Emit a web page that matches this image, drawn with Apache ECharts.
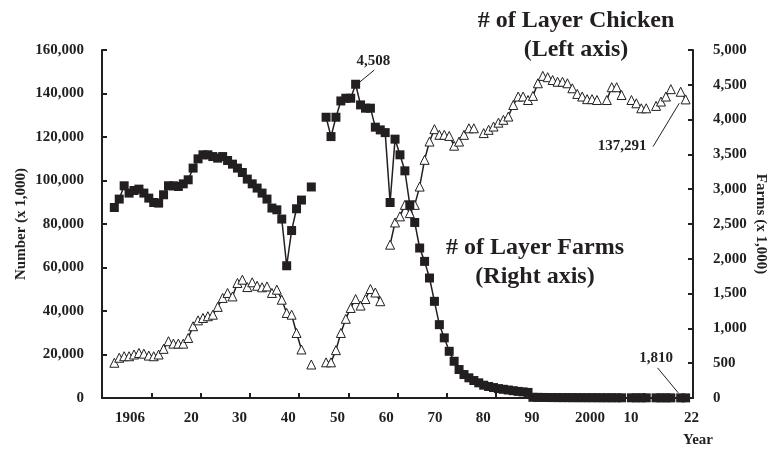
<!DOCTYPE html>
<html>
<head>
<meta charset="utf-8">
<script src="https://cdn.jsdelivr.net/npm/echarts@6/dist/echarts.min.js"></script>
<style>
html,body{margin:0;padding:0;background:#fff;}
#chart{width:770px;height:451px;}
</style>
</head>
<body>
<div id="chart"></div>
<script>
// 年份从1906开始，每年一个值，null为缺测
var startYear = 1906;
// 采卵鸡只数（千只，左轴）
var chickens = [
  16.2,18.5,19.2,19.2,20.0,20.7,20.4,19.5,19.2,20.0,   // 1906-1915
  22.6,26.1,25.0,25.0,25.0,27.6,33.0,35.7,36.8,37.6,   // 1916-1925
  38.3,41.9,46.0,48.3,46.7,52.9,54.4,51.0,53.2,51.6,   // 1926-1935
  50.9,51.3,48.3,49.8,45.2,39.1,38.3,29.9,22.3,null,   // 1936-1945
  15.4,null,null,16.4,16.4,22.0,29.9,36.4,41.4,45.5,   // 1946-1955
  42.5,45.5,50.1,48.5,44.5,null,70.5,80.7,83.5,88.8,   // 1956-1965
  85.0,88.8,97.2,109.5,117.9,123.6,121.0,121.0,120.5,116.0, // 1966-1975
  117.9,121.0,124.0,124.0,null,121.8,123.3,124.8,126.6,127.9, // 1976-1985
  129.4,134.7,138.6,138.6,137.0,138.9,144.7,148.1,147.5,146.2, // 1986-1995
  145.4,145.4,144.7,142.4,139.8,138.6,137.4,137.4,137.0,null,  // 1996-2005
  137.0,142.9,142.9,139.3,null,137.0,135.5,133.2,133.2,null,   // 2006-2015
  134.3,136.3,138.6,142.0,null,140.8,137.291                    // 2016-2022
];
// 采卵鸡饲养户数（千户，右轴）
var farms = [
  2737,2858,3049,2944,2981,3001,2944,2872,2809,2800,   // 1906-1915
  2920,3049,3049,3039,3077,3135,3303,3436,3494,3494,   // 1916-1925
  3469,3446,3469,3412,3360,3303,3240,3145,3077,3016,   // 1926-1935
  2944,2858,2729,2704,2571,1900,2406,2719,2844,null,   // 1936-1945
  3032,null,null,4034,3756,4034,4268,4307,4307,4508,   // 1946-1955
  4211,4164,4164,3891,3852,3813,2809,3719,3494,3264,   // 1956-1965
  2776,2522,2155,1963,1724,1389,1054,864,671,528,      // 1966-1975
  409,337,290,251,218,184,165,150,135,125,             // 1976-1985
  115,105,95,88,80,10.0,8.8,7.9,7.0,6.3,               // 1986-1995
  5.9,5.6,5.3,5.0,4.8,4.6,4.4,4.2,4.0,3.8,             // 1996-2005
  3.6,3.5,3.3,3.1,null,2.9,2.8,2.7,2.6,null,           // 2006-2015
  2.4,2.4,2.2,2.1,null,1.88,1.81                       // 2016-2022
];
// x轴刻度与文字（文字位置照原图）
var tickYears = [1913.5,1923.5,1933.5,1943.5,1953.5,1963.5,1973.5,1983.5,1993.5,2003.5,2013.5];
var labelYears = [1909.2,1921.6,1931.4,1941.3,1951.3,1961.2,1971.1,1980.9,1990.8,2002.6,2010.9,2023.2];
var labelTexts = ['1906','20','30','40','50','60','70','80','90','2000','10','22'];

var ink = '#231f20';
var font = 'Liberation Serif';

function pairs(arr, k){
	var out = [];
	for (var i = 0; i < arr.length; i++) {
		out.push([startYear + i, arr[i] == null ? '-' : arr[i] * k]);
	}
	return out;
}
var chickenData = pairs(chickens, 1000);
var farmData = pairs(farms, 1);

function yearLabel(v){
	for (var i = 0; i < labelYears.length; i++) {
		if (Math.abs(labelYears[i] - v) < 0.01) return labelTexts[i];
	}
	return '';
}

var tickStyle = {inside:true,length:5,lineStyle:{color:ink,width:2}};
function labelStyle(m){
	return {margin:m,color:ink,fontFamily:font,fontWeight:'bold',fontSize:15};
}
var nameStyle = {color:ink,fontFamily:font,fontWeight:'bold',fontSize:15};
var bigText = {fill:ink,font:'bold 24px "Liberation Serif"',textAlign:'center',textVerticalAlign:'middle'};
var noteLabel = {show:true,position:'inside',color:ink,fontFamily:font,fontWeight:'bold',fontSize:15};

var myChart = echarts.init(document.getElementById('chart'));
var option = {
	animation:false,
	backgroundColor:'#fff',
	grid:{left:102,right:77,top:50,bottom:53,containLabel:false,outerBoundsMode:'none'},
	xAxis:{
		type:'value',min:1903.5,max:2023.5,
		axisLine:{lineStyle:{color:ink,width:2}},
		axisTick:{inside:true,length:5,lineStyle:{color:ink,width:2},customValues:tickYears},
		splitLine:{show:false},
		axisLabel:{margin:13,color:ink,fontFamily:font,fontWeight:'bold',fontSize:15,customValues:labelYears,formatter:yearLabel}
	},
	yAxis:[{
		type:'value',min:0,max:160000,interval:20000,
		name:'Number (x 1,000)',nameLocation:'middle',nameRotate:90,nameGap:73,nameMoveOverlap:false,
		nameTextStyle:nameStyle,
		axisLine:{show:true,lineStyle:{color:ink,width:2}},
		axisTick:tickStyle,
		splitLine:{show:false},
		axisLabel:labelStyle(18)
	},{
		type:'value',min:0,max:5000,interval:500,position:'right',
		name:'Farms (x 1,000)',nameLocation:'middle',nameRotate:-90,nameGap:60,nameMoveOverlap:false,
		nameTextStyle:nameStyle,
		axisLine:{show:true,lineStyle:{color:ink,width:2}},
		axisTick:tickStyle,
		splitLine:{show:false},
		axisLabel:labelStyle(20)
	}],
	series:[{
		name:'# of Layer Chicken',type:'line',yAxisIndex:0,
		data:chickenData,connectNulls:false,showAllSymbol:true,
		symbol:'triangle',symbolSize:9,
		lineStyle:{color:ink,width:1.5},
		itemStyle:{color:'#fff',borderColor:ink,borderWidth:1},
		markLine:{
			silent:true,symbol:'none',label:{show:false},
			lineStyle:{color:ink,width:1,type:'solid',curveness:-0.3},
			data:[[{coord:[2015.4,115600]},{coord:[2020.7,135500]}]]
		},
		markPoint:{
			symbol:'circle',symbolSize:0,
			label:Object.assign({formatter:'137,291'},noteLabel),
			data:[{coord:[2009.1,115600]}]
		}
	},{
		name:'# of Layer Farms',type:'line',yAxisIndex:1,
		data:farmData,connectNulls:false,showAllSymbol:true,
		symbol:'rect',symbolSize:9,
		lineStyle:{color:ink,width:1.5},
		itemStyle:{color:ink},
		markLine:{
			silent:true,symbol:'none',label:{show:false},
			lineStyle:{color:ink,width:1,type:'solid'},
			data:[
				[{coord:[1955.3,4508]},{coord:[1958.8,4713]}],
				[{coord:[2016.3,433]},{coord:[2020.5,75]}]
			]
		},
		markPoint:{
			symbol:'circle',symbolSize:0,
			label:noteLabel,
			data:[
				{coord:[1958.6,4846],label:{formatter:'4,508'}},
				{coord:[2016.0,577],label:{formatter:'1,810'}}
			]
		}
	}],
	graphic:[
		{type:'text',x:576,y:21,style:Object.assign({text:'# of Layer Chicken'},bigText)},
		{type:'text',x:576,y:50,style:Object.assign({text:'(Left axis)'},bigText)},
		{type:'text',x:535,y:248,style:Object.assign({text:'# of Layer Farms'},bigText)},
		{type:'text',x:535,y:277,style:Object.assign({text:'(Right axis)'},bigText)},
		{type:'text',x:698,y:440,style:{text:'Year',fill:ink,font:'bold 15px "Liberation Serif"',textAlign:'center',textVerticalAlign:'middle'}}
	]
};
myChart.setOption(option);
</script>
</body>
</html>
